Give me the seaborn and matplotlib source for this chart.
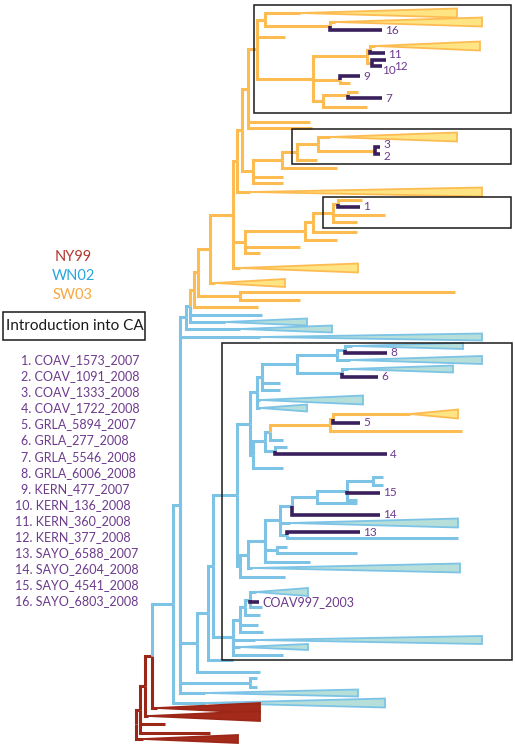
import re
import numpy as np
import pandas as pd
import matplotlib
matplotlib.use("Agg")
import matplotlib.pyplot as plt
import seaborn as sns
from matplotlib.patches import Polygon, Rectangle

# ------------------------------------------------------------------ data
lineage_names = ["NY99", "WN02", "SW03"]
lineage_text_colors = ["#B03A2E", "#2AA6DE", "#F6A83E"]

introduction_names = [
    "COAV_1573_2007", "COAV_1091_2008", "COAV_1333_2008", "COAV_1722_2008",
    "GRLA_5894_2007", "GRLA_277_2008", "GRLA_5546_2008", "GRLA_6006_2008",
    "KERN_477_2007", "KERN_136_2008", "KERN_360_2008", "KERN_377_2008",
    "SAYO_6588_2007", "SAYO_2604_2008", "SAYO_4541_2008", "SAYO_6803_2008",
]

# Tree pieces in an extended Newick notation.
#   internal node : (child,child,...):depth
#   plain tip     : t@row:depth
#   collapsed clade (triangle): w@row:max_depth/mrca_depth/half_spread
#   CA introduction tip: p<label>@row:depth
#   &NAME : graft the piece NAME here
ny99_tree = ("((((&WN02,w@708:260/157/5):152,w@716:260/148/5):145,"
             "t@724:165,t@733:210):140,w@739:238/143/4):136")

wn02_backbone = (
    "((((&SW03,t@315:262,w@322:307/225/3.5):190,w@329:332/240/3.5):186,"
    "w@337:482/260/3.5,"
    "(((&WN02_CA,"
    "((((w@592:308/256/4,pCOAV997_2003@602:259,t@607:262):250,t@615:260):245,"
    "t@625:258,t@632:263):240,w@640:482/255/4,w@647:308/240/3,t@655:283):233"
    "):213,t@660:233):208,t@672:260):197,"
    "(t@678:257,t@687:257):250,"
    "w@693:358/205/3.5):180,"
    "w@703:385/205/4.5):173")

wn02_ca = (
    "(("
    "(((((w@346:463/352/3,p8@353:387):345,w@360:482/350/4):337,"
    "(w@369:453/348/3.5,p6@377:378):342):297,t@383:280,t@390:280):262,"
    "w@400:363/260/4.5,w@408:307/260/3.5):257,"
    "(((&SW03_CA,t@440:283):270,(t@447:287,p4@454:387):275):265,t@468:283):253"
    "):250,"
    "((((((((t@477:383,t@485:383):373,p15@493:380,t@500:357):347,t@503:357):317,"
    "p14@515:380):292,w@523:458/290/4.5,(p13@532:360,t@538:458):287):280,"
    "(t@547:287,t@553:357):277,t@562:310):265,w@568:460/252/4.5):248,t@577:285):240"
    "):237")

sw03_backbone = (
    "((((((("
    "&SW03_TOP,t@122:310,t@128:312):248,"
    "(&SW03_MID,t@177:283,t@183:283):253):242,"
    "w@192:482/250/4.5):237,"
    "(&SW03_LOW,t@247:300,t@253:260):245,"
    "w@268:358/240/4.5):233,"
    "w@283:285/215/4):210,"
    "(t@292:455,t@300:300):240):198,"
    "t@307:258):194")

sw03_top = (
    "((w@13:457/300/4.5,(w@22:482/335/4.5,p16@30:382):330):265,t@37:285,"
    "(((w@46:480/375/4.5,p11@53:385):370,(p12@60:386,p10@66:382):372):367,"
    "(p9@76:360,t@83:350):340,"
    "((t@92:358,p7@98:382):348,t@107:367):323):313):257")

sw03_mid = ("(((w@137:457/330/4.5,(p3@147:380,p2@154:380):375):318,"
            "t@160:317):297,t@168:337):282")

sw03_low = ("((((t@200:362,p1@207:360):338,t@215:385,t@222:357):333,"
            "t@232:357):313,t@240:337):305")

sw03_ca = "((w@414:458/410/4.5,p5@423:360):333,t@431:462):330"

pieces = {
    "NY99": (ny99_tree, "NY"),
    "WN02": (wn02_backbone, "WN"),
    "WN02_CA": (wn02_ca, "WN"),
    "SW03": (sw03_backbone, "SW"),
    "SW03_TOP": (sw03_top, "SW"),
    "SW03_MID": (sw03_mid, "SW"),
    "SW03_LOW": (sw03_low, "SW"),
    "SW03_CA": (sw03_ca, "SW"),
}

# ------------------------------------------------------------------ styles
LINE = {"NY": "#9C2718", "WN": "#7CC3E6", "SW": "#FDBC52", "CA": "#3A1F5D"}
FILL = {"NY": "#A42A1B", "WN": "#B7DFDA", "SW": "#FFE484"}
LABEL_PURPLE = "#6D3A8C"
# small nudges (pixels) for crowded introduction labels
LABEL_NUDGE = {"12": (5, 6), "10": (-3, 5), "11": (0, 1),
               "3": (0, -2), "2": (0, 2)}


# ------------------------------------------------------------------ parser
def build(name):
    text, clade = pieces[name]
    text = re.sub(r"\s+", "", text)
    pos = 0

    def node():
        nonlocal pos
        if text[pos] == "(":
            pos += 1
            kids = [node()]
            while text[pos] == ",":
                pos += 1
                kids.append(node())
            assert text[pos] == ")"
            pos += 2  # skip ')' and ':'
            m = re.match(r"[\d.]+", text[pos:])
            pos += m.end()
            return {"kind": "node", "depth": float(m.group()),
                    "children": kids, "clade": clade}
        m = re.match(r"[^,()]+", text[pos:])
        tok = m.group()
        pos += m.end()
        if tok.startswith("&"):
            return build(tok[1:])
        head, rest = tok.split("@")
        row, spec = rest.split(":")
        vals = [float(v) for v in spec.split("/")]
        if head == "t":
            return {"kind": "tip", "y": float(row), "depth": vals[0],
                    "start": vals[0], "clade": clade, "children": []}
        if head == "w":
            return {"kind": "wedge", "y": float(row), "depth": vals[0],
                    "start": vals[1], "half": vals[2], "clade": clade,
                    "children": []}
        return {"kind": "intro", "y": float(row), "depth": vals[0],
                "start": vals[0], "label": head[1:], "clade": "CA",
                "children": []}

    return node()


def layout(n):
    if n["children"]:
        for c in n["children"]:
            layout(c)
        n["y"] = 0.5 * (n["children"][0]["y"] + n["children"][-1]["y"])
        n["start"] = n["depth"]


root = build("NY99")
layout(root)

segments = []
wedges = []
labels = []


def collect(n):
    for c in n["children"]:
        sid = len(segments)
        segments.append(pd.DataFrame({
            "seg": sid, "clade": c["clade"],
            "x": [n["depth"], n["depth"], c["start"]],
            "y": [n["y"], c["y"], c["y"]],
        }))
        if c["kind"] == "wedge":
            wedges.append(c)
        if c["kind"] == "intro":
            labels.append(c)
        collect(c)


collect(root)
seg_df = pd.concat(segments, ignore_index=True)

# ------------------------------------------------------------------ figure
sns.set_theme(style="white")
plt.rcParams["font.family"] = ["Lato", "DejaVu Sans"]

fig = plt.figure(figsize=(5.15, 7.5), dpi=100)
ax = fig.add_axes([0, 0, 1, 1])
ax.set_xlim(0, 515)
ax.set_ylim(750, 0)

tree_df = seg_df[seg_df["clade"] != "CA"]
sns.lineplot(data=tree_df, x="x", y="y", units="seg", estimator=None,
             hue="clade", palette=LINE, sort=False, legend=False, ax=ax,
             linewidth=2.2, solid_capstyle="butt", solid_joinstyle="miter",
             zorder=2)

for w in wedges:
    poly = Polygon([(w["start"], w["y"]), (w["depth"], w["y"] - w["half"]),
                    (w["depth"], w["y"] + w["half"])], closed=True,
                   facecolor=FILL[w["clade"]], edgecolor=LINE[w["clade"]],
                   linewidth=1.3, joinstyle="miter", zorder=2.5)
    ax.add_patch(poly)

ca_df = seg_df[seg_df["clade"] == "CA"]
sns.lineplot(data=ca_df, x="x", y="y", units="seg", estimator=None,
             color=LINE["CA"], sort=False, legend=False, ax=ax,
             linewidth=2.6, solid_capstyle="butt", solid_joinstyle="miter",
             zorder=3)

for lab in labels:
    dx, dy = LABEL_NUDGE.get(lab["label"], (0, 0))
    size = 9 if len(lab["label"]) > 3 else 8.5
    ax.text(lab["depth"] + 3 + dx, lab["y"] + dy, lab["label"],
            color=LABEL_PURPLE, fontsize=size, va="center", ha="left",
            zorder=4)

# framed groups of introductions
for (x0, y0, x1, y1) in [(254, 5, 511, 113), (292, 129, 511, 164),
                         (323, 197, 511, 228), (222, 343, 512, 660)]:
    ax.add_patch(Rectangle((x0, y0), x1 - x0, y1 - y0, fill=False,
                           edgecolor="#1a1a1a", linewidth=1.1, zorder=5))

# lineage legend
for i, (nm, col) in enumerate(zip(lineage_names, lineage_text_colors)):
    ax.text(73, 257 + 19 * i, nm, color=col, fontsize=10.5,
            ha="center", va="center")

ax.add_patch(Rectangle((3, 312), 142, 28, fill=False, edgecolor="#1a1a1a",
                       linewidth=1.1))
ax.text(75, 326, "Introduction into CA", fontsize=11, ha="center",
        va="center", color="#1a1a1a")

for i, nm in enumerate(introduction_names, start=1):
    ax.text(21 - 6 * (len(str(i)) - 1), 360 + 16.1 * (i - 1), f"{i}. {nm}",
            color=LABEL_PURPLE, fontsize=9, ha="left", va="center")

ax.set_axis_off()
fig.savefig("out.png", dpi=100)
